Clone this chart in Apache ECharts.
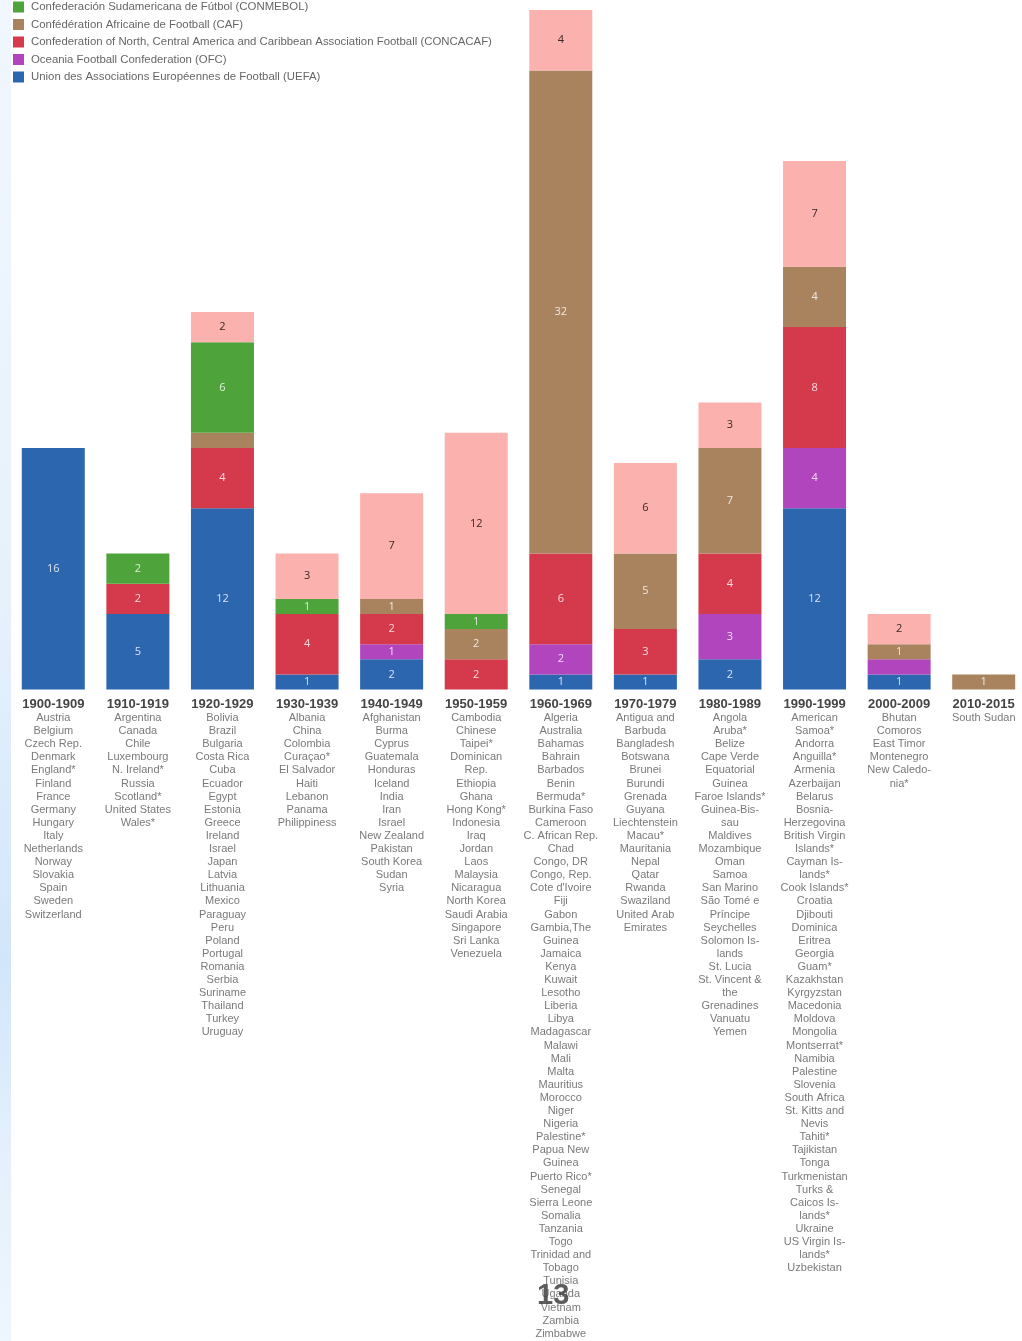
<!DOCTYPE html>
<html>
<head>
<meta charset="utf-8">
<script src="https://cdn.jsdelivr.net/npm/echarts@6/dist/echarts.min.js"></script>
<style>
html,body{margin:0;padding:0;background:#fff;}
#chart{width:1022px;height:1341px;}
</style>
</head>
<body>
<div id="chart"></div>
<script>
const categories = ['1900-1909','1910-1919','1920-1929','1930-1939','1940-1949','1950-1959','1960-1969','1970-1979','1980-1989','1990-1999','2000-2009','2010-2015'];

const uefa     = [16, 5, 12, 1, 2, 0, 1, 1, 2, 12, 1, 0];
const ofc      = [0, 0, 0, 0, 1, 0, 2, 0, 3, 4, 1, 0];
const concacaf = [0, 2, 4, 4, 2, 2, 6, 3, 4, 8, 0, 0];
const caf      = [0, 0, 1, 0, 1, 2, 32, 5, 7, 4, 1, 1];
const conmebol = [0, 2, 6, 1, 0, 1, 0, 0, 0, 0, 0, 0];
const afc      = [0, 0, 2, 3, 7, 12, 4, 6, 3, 7, 2, 0];

const seriesNames = [
  'Union des Associations Européennes de Football (UEFA)',
  'Oceania Football Confederation (OFC)',
  'Confederation of North, Central America and Caribbean Association Football (CONCACAF)',
  'Confédération Africaine de Football (CAF)',
  'Confederación Sudamericana de Fútbol (CONMEBOL)',
  'Asian Football Confederation (AFC)'
];

const members = [
  ['Austria','Belgium','Czech Rep.','Denmark','England*','Finland','France','Germany','Hungary','Italy','Netherlands','Norway','Slovakia','Spain','Sweden','Switzerland'],
  ['Argentina','Canada','Chile','Luxembourg','N. Ireland*','Russia','Scotland*','United States','Wales*'],
  ['Bolivia','Brazil','Bulgaria','Costa Rica','Cuba','Ecuador','Egypt','Estonia','Greece','Ireland','Israel','Japan','Latvia','Lithuania','Mexico','Paraguay','Peru','Poland','Portugal','Romania','Serbia','Suriname','Thailand','Turkey','Uruguay'],
  ['Albania','China','Colombia','Curaçao*','El Salvador','Haiti','Lebanon','Panama','Philippiness'],
  ['Afghanistan','Burma','Cyprus','Guatemala','Honduras','Iceland','India','Iran','Israel','New Zealand','Pakistan','South Korea','Sudan','Syria'],
  ['Cambodia','Chinese\nTaipei*','Dominican\nRep.','Ethiopia','Ghana','Hong Kong*','Indonesia','Iraq','Jordan','Laos','Malaysia','Nicaragua','North Korea','Saudi Arabia','Singapore','Sri Lanka','Venezuela'],
  ['Algeria','Australia','Bahamas','Bahrain','Barbados','Benin','Bermuda*','Burkina Faso','Cameroon','C. African Rep.','Chad','Congo, DR','Congo, Rep.',"Cote d'Ivoire",'Fiji','Gabon','Gambia,The','Guinea','Jamaica','Kenya','Kuwait','Lesotho','Liberia','Libya','Madagascar','Malawi','Mali','Malta','Mauritius','Morocco','Niger','Nigeria','Palestine*','Papua New\nGuinea','Puerto Rico*','Senegal','Sierra Leone','Somalia','Tanzania','Togo','Trinidad and\nTobago','Tunisia','Uganda','Vietnam','Zambia','Zimbabwe'],
  ['Antigua and\nBarbuda','Bangladesh','Botswana','Brunei','Burundi','Grenada','Guyana','Liechtenstein','Macau*','Mauritania','Nepal','Qatar','Rwanda','Swaziland','United Arab\nEmirates'],
  ['Angola','Aruba*','Belize','Cape Verde','Equatorial\nGuinea','Faroe Islands*','Guinea-Bis-\nsau','Maldives','Mozambique','Oman','Samoa','San Marino','São Tomé e\nPríncipe','Seychelles','Solomon Is-\nlands','St. Lucia','St. Vincent &\nthe\nGrenadines','Vanuatu','Yemen'],
  ['American\nSamoa*','Andorra','Anguilla*','Armenia','Azerbaijan','Belarus','Bosnia-\nHerzegovina','British Virgin\nIslands*','Cayman Is-\nlands*','Cook Islands*','Croatia','Djibouti','Dominica','Eritrea','Georgia','Guam*','Kazakhstan','Kyrgyzstan','Macedonia','Moldova','Mongolia','Montserrat*','Namibia','Palestine','Slovenia','South Africa','St. Kitts and\nNevis','Tahiti*','Tajikistan','Tonga','Turkmenistan','Turks &\nCaicos Is-\nlands*','Ukraine','US Virgin Is-\nlands*','Uzbekistan'],
  ['Bhutan','Comoros','East Timor','Montenegro','New Caledo-\nnia*'],
  ['South Sudan']
];

// segments drawn without a value label in the reference: [series index, category index]
const unlabeled = [[3, 2], [1, 10]];

const colors = ['#2c66ae', '#b145bd', '#d43a4c', '#a9835e', '#4ea43a', '#fbb1ae'];
const values = [uefa, ofc, concacaf, caf, conmebol, afc];

const chart = echarts.init(document.getElementById('chart'));
const FONT = '"Liberation Sans", Arial, sans-serif';

const series = values.map((arr, si) => ({
  name: seriesNames[si],
  type: 'bar',
  stack: 'total',
  barWidth: 63,
  itemStyle: { color: colors[si] },
  label: {
    show: true,
    position: 'inside',
    fontFamily: '"Open Sans", sans-serif',
    fontSize: 11,
    color: si === 5 ? '#3b2626' : 'rgba(255,255,255,0.82)',
    formatter: p => p.value ? String(p.value) : ''
  },
  data: arr.map((v, ci) => {
    const hide = unlabeled.some(u => u[0] === si && u[1] === ci);
    return hide ? { value: v, label: { show: false } } : (v === 0 ? '-' : v);
  })
}));

chart.setOption({
  animation: false,
  backgroundColor: '#ffffff',
  color: colors,
  graphic: [
    {
      type: 'rect', left: 0, top: 0, z: -10,
      shape: { width: 11, height: 1341 },
      style: {
        fill: new echarts.graphic.LinearGradient(0, 0, 0, 1, [
          { offset: 0, color: '#f1f7fe' },
          { offset: 0.45, color: '#e6f1fc' },
          { offset: 0.72, color: '#d2e6fa' },
          { offset: 0.86, color: '#e4f0fc' },
          { offset: 1, color: '#eef6fe' }
        ])
      }
    },
    {
      type: 'text', left: 537, top: 1281, z: 100,
      style: { text: '13', fontSize: 29, fontWeight: 'bold', fontFamily: FONT, fill: 'rgba(70,70,70,0.88)' }
    }
  ],
  legend: {
    orient: 'vertical',
    left: 13,
    top: -16,
    padding: 0,
    itemWidth: 11,
    itemHeight: 11,
    itemGap: 6.5,
    icon: 'rect',
    selectedMode: false,
    data: [seriesNames[5], seriesNames[4], seriesNames[3], seriesNames[2], seriesNames[1], seriesNames[0]],
    textStyle: { fontFamily: FONT, fontSize: 11.4, color: '#666', lineHeight: 11, padding: [0, 0, 0, 2] }
  },
  grid: { left: 11, top: 10, width: 1015, height: 679.5, containLabel: false, outerBoundsMode: 'none' },
  xAxis: {
    type: 'category',
    data: categories,
    axisLine: { show: false },
    axisTick: { show: false },
    splitLine: { show: false },
    axisLabel: {
      interval: 0,
      margin: 7,
      fontFamily: FONT,
      formatter: (val, idx) => {
        const lines = ['{d|' + val + '}'];
        members[idx].forEach(m => m.split('\n').forEach(l => lines.push('{n|' + l + '}')));
        return lines.join('\n');
      },
      rich: {
        d: { fontFamily: FONT, fontSize: 13, fontWeight: 'bold', color: '#444', lineHeight: 15, align: 'center' },
        n: { fontFamily: FONT, fontSize: 11, color: '#7a7a7a', lineHeight: 13.1, align: 'center' }
      }
    }
  },
  yAxis: {
    type: 'value',
    min: 0,
    max: 45,
    show: false,
    splitLine: { show: false }
  },
  series: series
});
</script>
</body>
</html>
